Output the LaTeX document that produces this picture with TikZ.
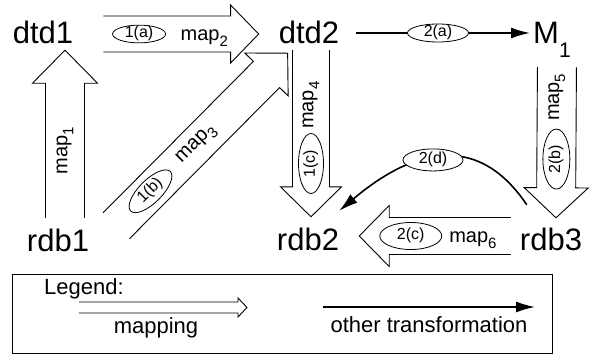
\documentclass[tikz,border=0pt]{standalone}
\usepackage{fontspec}
\setmainfont{Liberation Sans}
\usetikzlibrary{calc}
\usetikzlibrary{arrows.meta}
\usetikzlibrary{shapes.geometric}
\tikzset{
	/maparrow/.cd,
	shaft/.store in=\mapshaft,
	head/.store in=\maphead,
	head length/.store in=\maplen,
	shaft=18.5pt,
	head=30.5pt,
	head length=30pt,
}
\tikzset{
	schema/.style={inner sep=0pt, text height=22pt, text depth=0pt, anchor=base, font=\fontsize{31}{31}\selectfont},
	maplbl/.style={inner sep=0pt, font=\fontsize{20}{20}\selectfont},
	oval/.style={ellipse, draw, fill=white, line width=0.8pt, inner sep=0pt, text height=10pt, text depth=2.5pt, minimum width=60pt, minimum height=25pt, font=\fontsize{16}{16}\selectfont},
	maplines/.style={line width=0.9pt, line join=miter},
	othertrans/.style={line width=1.6pt, -{Latex[length=19pt,width=11pt]}},
	legendtxt/.style={inner sep=0pt, anchor=base, font=\fontsize{22}{22}\selectfont},
}
% "map" with a dropped index
\newcommand{\mapn}[1]{map\raisebox{-6pt}{\fontsize{15}{15}\selectfont #1}}
% hollow block arrow, open at the tail
\newcommand{\maparrow}[3][]{%
	\begingroup
	\pgfqkeys{/maparrow}{#1}%
	\coordinate (mbase) at ($(#3)!\maplen!(#2)$);
	\draw[maplines] ($(#2)!\mapshaft!90:(#3)$) -- ($(mbase)!\mapshaft!90:(#3)$) -- ($(mbase)!\maphead!90:(#3)$) -- (#3) -- ($(mbase)!\maphead!-90:(#3)$) -- ($(mbase)!\mapshaft!-90:(#3)$) -- ($(#2)!\mapshaft!-90:(#3)$);
	\endgroup}

\begin{document}
\begin{tikzpicture}[x=1pt,y=-1pt]
	\useasboundingbox (0,0) rectangle (592,354);
	% schemas
	\node[schema] (dtd1) at (43,43) {dtd1};
	\node[schema] (dtd2) at (309,43) {dtd2};
	\node[schema, anchor=base west] (M1) at (533,43) {M\raisebox{-14pt}{\fontsize{21}{21}\selectfont 1}};
	\node[schema] (rdb1) at (58,251) {rdb1};
	\node[schema] (rdb2) at (308,250) {rdb2};
	\node[schema] (rdb3) at (551,250) {rdb3};
	%
	\coordinate (a1s) at ([shift={(7,-11)}]rdb1.north);
	\coordinate (a1e) at ([shift={(22,7)}]dtd1.south);
	\coordinate (a2s) at ([shift={(30,2)}]dtd1.east);
	\coordinate (a2e) at ([shift={(-20,2)}]dtd2.west);
	\coordinate (a3s) at ([shift={(27,-3)}]rdb1.north east);
	\coordinate (a3e) at ([shift={(9,10)}]dtd2.south west);
	\coordinate (a4s) at ([shift={(2,7)}]dtd2.south);
	\coordinate (a4e) at ([shift={(3,-11)}]rdb2.north);
	\coordinate (a5s) at ([shift={(5,24)}]M1.south);
	\coordinate (a5e) at ([shift={(5,-10)}]rdb3.north);
	\coordinate (a6s) at ([shift={(-9,-3)}]rdb3.west);
	\coordinate (a6e) at ([shift={(20,-3)}]rdb2.east);
	%
	\maparrow[shaft=19.5pt, head=32.5pt, head length=33pt]{a1s}{a1e}
	\maparrow[shaft=18pt, head=29pt, head length=28pt]{a2s}{a2e}
	\maparrow{a3s}{a3e}
	\maparrow{a4s}{a4e}
	\maparrow[shaft=19.5pt, head=32pt]{a5s}{a5e}
	\maparrow{a6s}{a6e}
	%
	\node[maplbl, rotate=90] (l1) at ($(a1s)!0.40!(a1e)$) {\mapn{1}};
	\node[maplbl, yshift=-4pt] (l2) at ($(a2s)!0.65!(a2e)$) {\mapn{2}};
	\node[maplbl, rotate=45] (l3) at ($(a3s)!0.47!(a3e)$) {\mapn{3}};
	\node[maplbl, rotate=90] (l4) at ($(a4s)!0.33!(a4e)$) {\mapn{4}};
	\node[maplbl, rotate=90] (l5) at ($(a5s)!0.2!(a5e)$) {\mapn{5}};
	\node[maplbl, yshift=-4pt] (l6) at ($(a6s)!0.25!(a6e)$) {\mapn{6}};
	%
	\node[oval, minimum width=53pt, minimum height=15pt] (e1a) at ($(a2s)!0.23!(a2e)$) {1(a)};
	\node[oval, rotate=45, minimum width=56pt, minimum height=23pt] (e1b) at ($(a3s)!0.2!(a3e)$) {1(b)};
	\node[oval, rotate=90] (e1c) at ($(a4s)!0.68!(a4e)$) {1(c)};
	\node[oval, rotate=90, minimum height=27pt] (e2b) at ($(a5s)!0.61!(a5e)$) {2(b)};
	\node[oval, minimum width=62pt, minimum height=27pt] (e2c) at ($(a6s)!0.66!(a6e)$) {2(c)};
	% other transformations
	\coordinate (t1s) at ([shift={(17,1)}]dtd2.east);
	\coordinate (t1e) at ([shift={(-3,1)}]M1.west);
	\draw[othertrans] (t1s) -- node[oval, pos=0.47, minimum width=61pt, minimum height=18pt] (e2a) {2(a)} (t1e);
	\coordinate (t2s) at ([shift={(7,-23)}]rdb3.north west);
	\coordinate (t2e) at ([shift={(0,-17)}]rdb2.north east);
	\draw[othertrans] (t2s) .. controls +(-57,-85) and +(57,-48) .. node[oval, minimum height=22pt, yshift=-2pt] (e2d) {2(d)} (t2e);
	% legend
	\draw[line width=0.9pt] (12,274) rectangle (552,353);
	\node[legendtxt] (leg) at (84,294) {Legend:};
	\node[legendtxt] (lmap) at (156,333) {mapping};
	\node[legendtxt] (loth) at (429,332) {other transformation};
	\coordinate (k1s) at ([shift={(-77,-25.5)}]lmap.base);
	\coordinate (k1e) at ([shift={(91,-25.5)}]lmap.base);
	\maparrow[shaft=5.5pt, head=9.5pt, head length=9pt]{k1s}{k1e}
	\coordinate (k2s) at ([shift={(-106,-25)}]loth.base);
	\coordinate (k2e) at ([shift={(106,-25)}]loth.base);
	\draw[othertrans] (k2s) -- (k2e);
\end{tikzpicture}
\end{document}
